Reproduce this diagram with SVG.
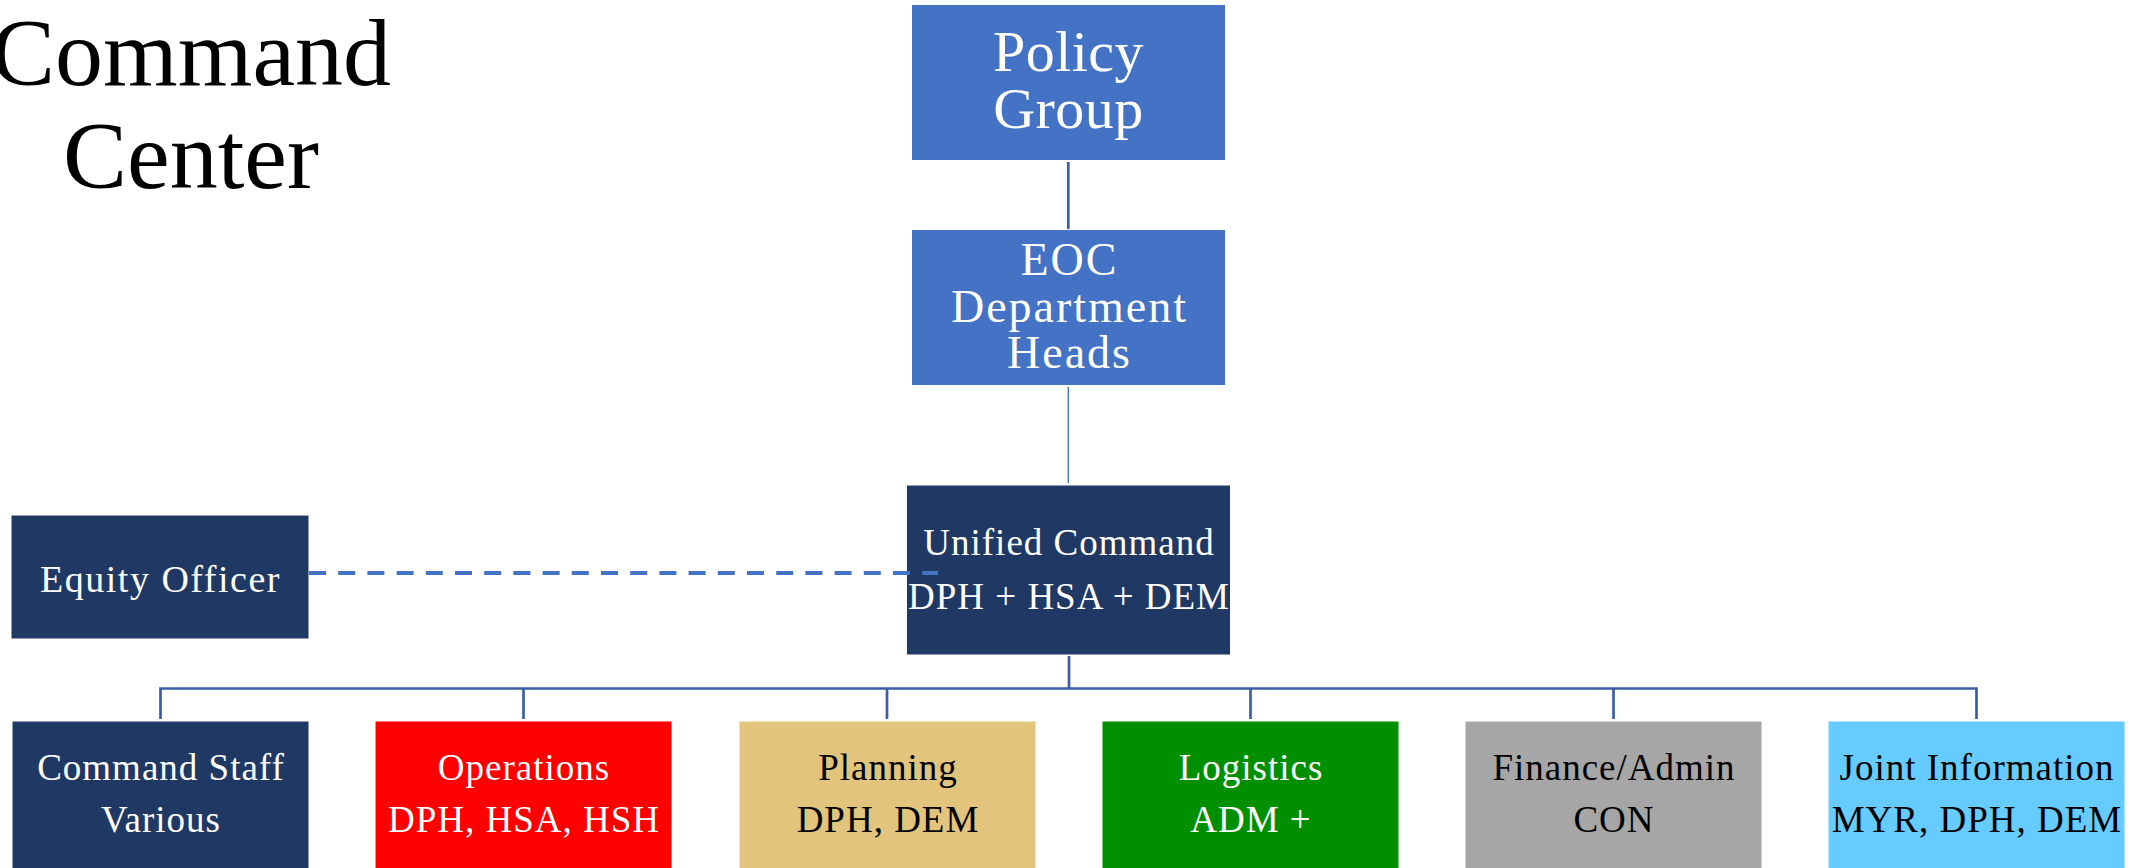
<svg xmlns="http://www.w3.org/2000/svg" width="2141" height="868" viewBox="0 0 2141 868">
<style>
text { font-family: "Liberation Serif", "Times New Roman", serif; text-anchor: middle; }
.box { stroke: #ffffff; stroke-width: 1; }
.light { fill: #4472C4; }
.navy { fill: #203864; }
.w { fill: #ffffff; }
.k { fill: #000000; }
.conn { stroke: #3A5FA4; stroke-width: 2.7; fill: none; }
.t37 { font-size: 37px; letter-spacing: 1px; }
</style>
<rect width="2141" height="868" fill="#ffffff"/>
<g id="title">
<text x="191" y="85" font-size="96" class="k">Command</text>
<text x="191" y="188" font-size="96" class="k">Center</text>
</g>
<g id="connectors">
<line class="conn" x1="1068.3" y1="162" x2="1068.3" y2="229"/>
<line x1="1068.3" y1="387" x2="1068.3" y2="483" stroke="#4472C4" stroke-width="1.4"/>
<line class="conn" x1="1069" y1="656" x2="1069" y2="689"/>
<polyline class="conn" points="160.5,719 160.5,688.5 1976.5,688.5 1976.5,719"/>
<line class="conn" x1="523.5" y1="688.5" x2="523.5" y2="719"/>
<line class="conn" x1="887" y1="688.5" x2="887" y2="719"/>
<line class="conn" x1="1250.5" y1="688.5" x2="1250.5" y2="719"/>
<line class="conn" x1="1613.5" y1="688.5" x2="1613.5" y2="719"/>
</g>
<g id="policy-group">
<rect class="box light" x="911.5" y="4.5" width="314" height="156"/>
<text x="1068.5" y="71" font-size="58" letter-spacing="0.5" class="w">Policy</text>
<text x="1068.5" y="128" font-size="58" letter-spacing="0.5" class="w">Group</text>
</g>
<g id="eoc-department-heads">
<rect class="box light" x="911.5" y="229.5" width="314" height="156"/>
<text x="1069.5" y="275" font-size="46" letter-spacing="2" class="w">EOC</text>
<text x="1069.5" y="321.5" font-size="46" letter-spacing="2" class="w">Department</text>
<text x="1069.5" y="368" font-size="46" letter-spacing="2" class="w">Heads</text>
</g>
<g id="equity-officer">
<rect class="box navy" x="11" y="515" width="298" height="124"/>
<text x="160.5" y="592" font-size="38" letter-spacing="1.5" class="w">Equity Officer</text>
</g>
<g id="unified-command">
<rect class="box navy" x="906.5" y="485" width="324" height="170"/>
<text x="1069" y="554.5" class="t37 w">Unified Command</text>
<text x="1069" y="608.5" class="t37 w" letter-spacing="0.6">DPH + HSA + DEM</text>
</g>
<g id="equity-link">
<line x1="309" y1="573" x2="938" y2="573" stroke="#4472C4" stroke-width="4" stroke-dasharray="17 12.2"/>
</g>
<g id="command-staff">
<rect class="box navy" x="12" y="721" width="297" height="160"/>
<text x="161" y="780" class="t37 w">Command Staff</text>
<text x="161" y="832" class="t37 w">Various</text>
</g>
<g id="operations">
<rect class="box" fill="#FF0000" x="375" y="721" width="297" height="160"/>
<text x="524" y="780" class="t37 w">Operations</text>
<text x="524" y="832" class="t37 w">DPH, HSA, HSH</text>
</g>
<g id="planning">
<rect class="box" fill="#E2C47C" x="739" y="721" width="297" height="160"/>
<text x="888" y="780" class="t37 k">Planning</text>
<text x="888" y="832" class="t37 k">DPH, DEM</text>
</g>
<g id="logistics">
<rect class="box" fill="#008F00" x="1102" y="721" width="297" height="160"/>
<text x="1251" y="780" class="t37 w">Logistics</text>
<text x="1251" y="832" class="t37 w">ADM +</text>
</g>
<g id="finance-admin">
<rect class="box" fill="#A6A6A6" x="1465" y="721" width="297" height="160"/>
<text x="1614" y="780" class="t37 k">Finance/Admin</text>
<text x="1614" y="832" class="t37 k">CON</text>
</g>
<g id="joint-information">
<rect class="box" fill="#66CCFF" x="1828" y="721" width="297" height="160"/>
<text x="1977" y="780" class="t37 k">Joint Information</text>
<text x="1977" y="832" class="t37 k">MYR, DPH, DEM</text>
</g>
</svg>
